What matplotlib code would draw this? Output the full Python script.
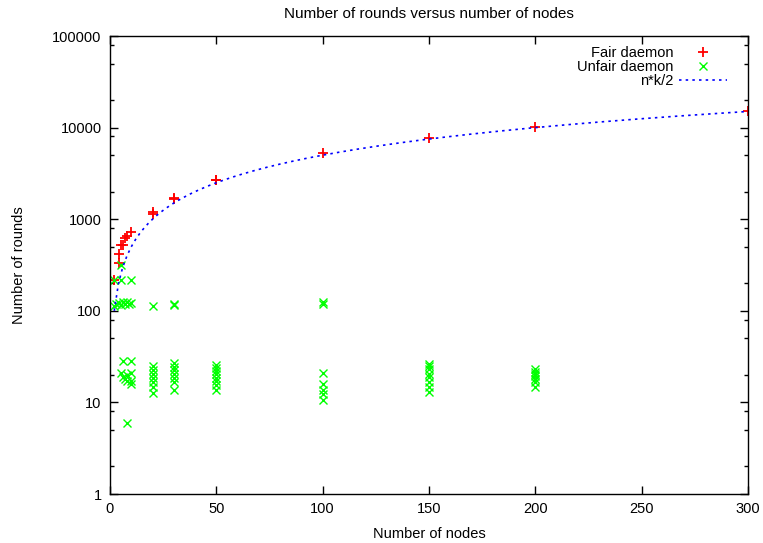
import numpy as np
import matplotlib
matplotlib.use('Agg')
import matplotlib.pyplot as plt
from matplotlib.ticker import FixedLocator, LogLocator, NullFormatter, FuncFormatter

plt.rcParams['font.family'] = ['Liberation Sans', 'DejaVu Sans']
plt.rcParams['font.size'] = 10.5

# Fair daemon runs (nodes, rounds)
fair_n = [2, 4, 4, 5, 6, 7, 8, 10, 20, 20, 30, 30, 50, 50, 100, 150, 200, 300]
fair_rounds = [216, 330, 415, 520, 525, 620, 650, 730, 1200, 1150, 1700, 1650,
               2700, 2650, 5250, 7750, 10200, 15200]

# Unfair daemon runs (nodes, rounds)
unfair_n = [2, 5, 10, 5,
            2, 3, 4, 5, 6, 7, 8, 9, 10, 20, 30, 30, 100, 100,
            6, 10, 5, 6, 7, 8, 8, 10, 10, 10, 8,
            20, 20, 20, 20, 20, 20, 20,
            30, 30, 30, 30, 30, 30, 30,
            50, 50, 50, 50, 50, 50, 50, 50,
            100, 100, 100, 100, 100,
            150, 150, 150, 150, 150, 150, 150, 150,
            200, 200, 200, 200, 200, 200, 200]
unfair_rounds = [218, 218, 218, 316,
                 112, 118, 122, 115, 125, 120, 126, 118, 122, 113, 115, 120, 118, 126,
                 28, 28, 21, 19, 18, 20, 17, 21, 17, 16, 6,
                 24.7, 22.7, 20.6, 18.6, 16.7, 14.7, 12.8,
                 26.8, 24.3, 22.3, 20.6, 18.6, 16.7, 13.8,
                 25.9, 23.9, 22.0, 20.2, 18.6, 17.1, 15.3, 13.8,
                 20.9, 16.0, 13.8, 12.4, 10.7,
                 26.4, 24.7, 23.3, 20.6, 18.9, 16.7, 14.7, 13.0,
                 23.3, 21.4, 20.2, 19.2, 18.1, 16.7, 14.7]

# reference curve n*k/2
k = 100
n_min, n_max = 2, 300

fig = plt.figure(figsize=(7.63, 5.43), dpi=100)
ax = fig.add_axes([110 / 763, 1 - 494 / 543, 638 / 763, 458 / 543])

ax.plot(fair_n, fair_rounds, linestyle='none', marker='+', color='#ff0000',
        markersize=7.5, markeredgewidth=1.3, label='Fair daemon')
ax.plot(unfair_n, unfair_rounds, linestyle='none', marker='x', color='#00ff00',
        markersize=6, markeredgewidth=1.0, label='Unfair daemon')
n_line = np.linspace(n_min, n_max, 150)
ax.plot(n_line, n_line * k / 2, color='#0000ff', linestyle=(0, (1.5, 2.5)),
        linewidth=1.2, label='n*k/2')

ax.set_yscale('log')
ax.set_xlim(0, 300)
ax.set_ylim(1, 100000)
ax.xaxis.set_major_locator(FixedLocator([0, 50, 100, 150, 200, 250, 300]))
ax.yaxis.set_major_locator(FixedLocator([1, 10, 100, 1000, 10000, 100000]))
ax.yaxis.set_major_formatter(FuncFormatter(lambda v, p: '%d' % v))
ax.yaxis.set_minor_locator(LogLocator(base=10, subs=(2.0, 5.0, 8.0)))
ax.yaxis.set_minor_formatter(NullFormatter())
ax.tick_params(which='both', direction='in', top=True, right=True)
ax.tick_params(which='major', length=6, width=1, pad=6)
ax.tick_params(which='minor', length=3, width=1)
for s in ax.spines.values():
    s.set_linewidth(1.0)

ax.set_title('Number of rounds versus number of nodes', pad=13, fontsize=11)
ax.set_xlabel('Number of nodes', labelpad=8)
ax.set_ylabel('Number of rounds', labelpad=19)

ax.legend(loc='upper right', bbox_to_anchor=(727 / 763, 1 - 46 / 543),
          bbox_transform=fig.transFigure, frameon=False, markerfirst=False,
          borderpad=0, borderaxespad=0, handlelength=3.3, handletextpad=0.4,
          labelspacing=0.0)

fig.savefig('out.png', dpi=100)
